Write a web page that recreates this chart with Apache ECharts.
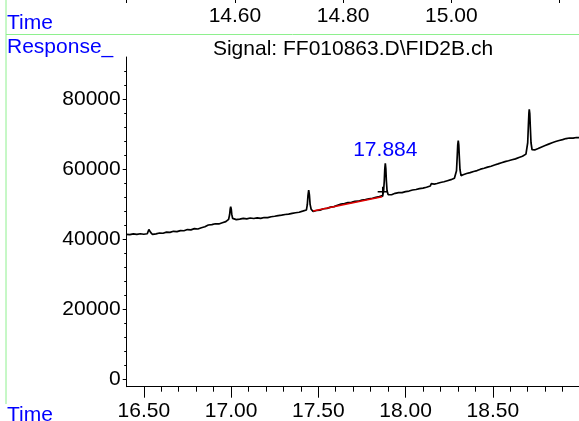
<!DOCTYPE html>
<html>
<head>
<meta charset="utf-8">
<script src="https://cdn.jsdelivr.net/npm/echarts@6/dist/echarts.min.js"></script>
<style>
    html, body { margin: 0; padding: 0; background: #fff; }
    #chart { width: 579px; height: 421px; }
</style>
</head>
<body>
<div id="chart"></div>
<script>
// Trace [time (min), response]
const trace = [
    [16.40, 41300], [16.41, 41150], [16.42, 41250], [16.43, 41100], [16.44, 41450], [16.45, 41250],
    [16.46, 41300], [16.47, 41200], [16.48, 41500], [16.49, 41300], [16.50, 41350], [16.51, 41250],
    [16.52, 41500], [16.526, 41900], [16.529, 42700], [16.532, 43200], [16.535, 42700], [16.539, 41900], [16.545, 41500],
    [16.55, 41300], [16.56, 41650], [16.57, 41450], [16.58, 41550], [16.59, 41700], [16.60, 41800],
    [16.61, 41650], [16.62, 41750], [16.63, 41950], [16.64, 42000], [16.65, 41900], [16.66, 42050],
    [16.67, 42200], [16.68, 42250], [16.69, 42100], [16.70, 42200], [16.71, 42400], [16.72, 42450],
    [16.73, 42350], [16.74, 42500], [16.75, 42700], [16.76, 42700], [16.77, 42600], [16.78, 42750],
    [16.79, 42950], [16.80, 42950], [16.81, 42850], [16.82, 43100], [16.83, 43200], [16.84, 43300],
    [16.85, 43500], [16.86, 43700], [16.87, 44000], [16.88, 44200], [16.89, 44100], [16.90, 44250],
    [16.91, 44350], [16.92, 44450], [16.93, 44300], [16.94, 44500], [16.95, 44650], [16.96, 44800],
    [16.97, 44950], [16.978, 45100],
    [16.986, 45600], [16.992, 47000], [16.995, 48500], [16.998, 49250], [17.001, 48600], [17.004, 47100], [17.009, 45900], [17.014, 45600],
    [17.02, 45650], [17.03, 45550], [17.04, 45800], [17.05, 45700], [17.06, 45750], [17.07, 45900],
    [17.08, 45850], [17.09, 45750], [17.10, 45800], [17.11, 46000], [17.12, 45950], [17.13, 45850],
    [17.14, 45900], [17.15, 46050], [17.16, 46000], [17.17, 45900], [17.18, 46050], [17.19, 46150],
    [17.20, 46000], [17.21, 46100], [17.22, 46200], [17.23, 46350], [17.24, 46400], [17.25, 46500],
    [17.26, 46600], [17.27, 46700], [17.28, 46750], [17.29, 46800], [17.30, 46900], [17.31, 47000],
    [17.32, 47050], [17.33, 47100], [17.34, 47200], [17.35, 47300], [17.36, 47350], [17.37, 47500],
    [17.38, 47550], [17.39, 47650], [17.40, 47800], [17.41, 47950], [17.42, 48050],
    [17.432, 48300], [17.437, 49800], [17.441, 52500], [17.445, 54000], [17.449, 52600], [17.453, 49900], [17.459, 48500],
    [17.466, 48000], [17.47, 47900], [17.48, 48100], [17.49, 48150], [17.50, 48300], [17.51, 48250],
    [17.52, 48450], [17.53, 48650], [17.54, 48800], [17.55, 48750], [17.56, 48900], [17.57, 49100],
    [17.58, 49300], [17.59, 49250], [17.60, 49400], [17.61, 49650], [17.62, 49800], [17.63, 49950],
    [17.64, 50150], [17.65, 50100], [17.66, 50250], [17.67, 50400], [17.68, 50500], [17.69, 50450],
    [17.70, 50600], [17.71, 50750], [17.72, 50850], [17.73, 50800], [17.74, 51000], [17.75, 51150],
    [17.76, 51200], [17.77, 51250], [17.78, 51350], [17.79, 51500], [17.80, 51600], [17.81, 51650],
    [17.82, 51800], [17.83, 51900], [17.84, 52050], [17.85, 52100], [17.86, 52250],
    [17.868, 52400], [17.874, 53600], [17.878, 56500], [17.881, 60000], [17.884, 61650], [17.887, 60100],
    [17.890, 56700], [17.894, 53800], [17.900, 52700],
    [17.91, 52750], [17.92, 52650], [17.93, 52950], [17.94, 53050], [17.95, 53100], [17.96, 53250],
    [17.97, 53300], [17.98, 53250], [17.99, 53400], [18.00, 53550], [18.01, 53650], [18.02, 53700],
    [18.03, 53800], [18.04, 54000], [18.05, 54100], [18.06, 54150], [18.07, 54250], [18.08, 54400],
    [18.09, 54500], [18.10, 54550], [18.11, 54650], [18.12, 54800], [18.13, 54900],
    [18.142, 55150], [18.147, 55800], [18.150, 56100], [18.154, 55700], [18.158, 55500],
    [18.165, 55700], [18.17, 55750], [18.18, 55850], [18.19, 56000], [18.20, 56150], [18.21, 56250],
    [18.22, 56350], [18.23, 56500], [18.24, 56650], [18.25, 56800], [18.26, 56950], [18.27, 57200],
    [18.28, 57350], [18.287, 57600], [18.292, 59500], [18.296, 63500], [18.299, 66800], [18.302, 68100],
    [18.305, 66900], [18.308, 63600], [18.312, 59800], [18.318, 58100],
    [18.33, 58350], [18.34, 58450], [18.35, 58700], [18.36, 58800], [18.37, 58950], [18.38, 59150],
    [18.39, 59300], [18.40, 59400], [18.41, 59550], [18.42, 59800], [18.43, 59950], [18.44, 60050],
    [18.45, 60200], [18.46, 60400], [18.47, 60550], [18.48, 60650], [18.49, 60800], [18.50, 61000],
    [18.51, 61150], [18.52, 61300], [18.53, 61450], [18.54, 61600], [18.55, 61800], [18.56, 61900],
    [18.57, 62100], [18.58, 62250], [18.59, 62350], [18.60, 62500], [18.61, 62650], [18.62, 62800],
    [18.63, 62900], [18.64, 63100], [18.65, 63300], [18.66, 63450], [18.67, 63650], [18.68, 63900],
    [18.69, 64250], [18.695, 64800], [18.700, 67500], [18.704, 72500], [18.707, 76000], [18.709, 77050],
    [18.712, 75800], [18.715, 72000], [18.719, 67500], [18.725, 65500],
    [18.73, 65300], [18.74, 65450], [18.75, 65650], [18.76, 65850], [18.77, 66050], [18.78, 66300],
    [18.79, 66500], [18.80, 66700], [18.81, 66900], [18.82, 67100], [18.83, 67350], [18.84, 67500],
    [18.85, 67700], [18.86, 67850], [18.87, 68000], [18.88, 68150], [18.89, 68300], [18.90, 68400],
    [18.91, 68550], [18.92, 68700], [18.93, 68800], [18.94, 68850], [18.95, 68900], [18.96, 68800],
    [18.97, 68950], [18.98, 69000], [18.994, 68950]
];

// Integrated peak: apex, its label, baseline and marker
const peakApex = [[17.884, 61650]];
const peakLabels = ['17.884'];
const integrationBaseline = [[17.47, 48000], [17.866, 52080]];
const apexMarker = [[17.869, 53500]];

// Axis ticks
const xMajorTicks = [16.5, 17.0, 17.5, 18.0, 18.5];
const xMinorTicks = [16.6, 16.7, 16.8, 16.9, 17.1, 17.2, 17.3, 17.4, 17.6, 17.7, 17.8, 17.9,
    18.1, 18.2, 18.3, 18.4, 18.6, 18.7, 18.8, 18.9];
const yMajorTicks = [0, 20000, 40000, 60000, 80000];
const yMinorTicks = [0, 4000, 8000, 12000, 16000, 20000, 24000, 28000, 32000, 36000, 40000, 44000,
    48000, 52000, 56000, 60000, 64000, 68000, 72000, 76000, 80000, 84000, 88000];
const topTicks = [14.4, 14.6, 14.8, 15.0, 15.2];
const topLabels = [14.6, 14.8, 15.0];

const FONT = 'Liberation Sans, Arial, sans-serif';
const BLUE = '#0000ff';
const GREEN = '#8ef08e';

document.addEventListener('DOMContentLoaded', () => {
    const chart = echarts.init(document.getElementById('chart'), null, { renderer: 'canvas' });

    const tickLabel = { color: '#000', fontFamily: FONT, fontSize: 21 };

    const option = {
        animation: false,
        backgroundColor: '#fff',
        grid: [
            { left: 126.7, right: 0, top: 57, bottom: 34.3, outerBoundsMode: 'none' },
            { left: 126.7, right: 0, top: -60, height: 57, outerBoundsMode: 'none' }
        ],
        xAxis: [
            {
                type: 'value', gridIndex: 0, position: 'bottom', min: 16.402, max: 18.994,
                axisLine: { onZero: false, lineStyle: { color: '#000', width: 1 } },
                axisTick: { customValues: xMajorTicks, length: 11, lineStyle: { color: '#000' } },
                axisLabel: { ...tickLabel, customValues: xMajorTicks, margin: 14, formatter: (v) => v.toFixed(2) },
                splitLine: { show: false }
            },
            {
                type: 'value', gridIndex: 0, position: 'bottom', min: 16.402, max: 18.994,
                axisLine: { show: false, onZero: false },
                axisTick: { customValues: xMinorTicks, length: 5, lineStyle: { color: '#000' } },
                axisLabel: { show: false },
                splitLine: { show: false }
            },
            {
                type: 'value', gridIndex: 1, min: 14.4, max: 15.236, position: 'bottom',
                axisLine: { show: false, onZero: false },
                axisTick: { customValues: topTicks, length: 6, lineStyle: { color: '#000' } },
                axisLabel: { ...tickLabel, customValues: topLabels, margin: 9, formatter: (v) => v.toFixed(2) },
                splitLine: { show: false }
            }
        ],
        yAxis: [
            {
                type: 'value', gridIndex: 0, position: 'left', min: -2200, max: 92000,
                axisLine: { show: true, onZero: false, lineStyle: { color: '#000', width: 1 } },
                axisTick: { customValues: yMajorTicks, length: 4, lineStyle: { color: '#000' } },
                axisLabel: { ...tickLabel, customValues: yMajorTicks, margin: 6, formatter: (v) => String(v) },
                splitLine: { show: false }
            },
            {
                type: 'value', gridIndex: 0, position: 'left', min: -2200, max: 92000,
                axisLine: { show: false, onZero: false },
                axisTick: { customValues: yMinorTicks, length: 2.5, lineStyle: { color: '#000' } },
                axisLabel: { show: false },
                splitLine: { show: false }
            },
            { type: 'value', gridIndex: 1, show: false, min: 0, max: 1 }
        ],
        graphic: [
            { type: 'line', shape: { x1: 6, y1: 0, x2: 6, y2: 404 }, style: { stroke: GREEN, lineWidth: 1 } },
            { type: 'line', shape: { x1: 6, y1: 34.5, x2: 579, y2: 34.5 }, style: { stroke: GREEN, lineWidth: 1 } },
            { type: 'text', x: 7, y: 23, style: { text: 'Time', fill: BLUE, font: `21px ${FONT}`, verticalAlign: 'middle' } },
            { type: 'text', x: 7, y: 47, style: { text: 'Response_', fill: BLUE, font: `21px ${FONT}`, verticalAlign: 'middle' } },
            { type: 'text', x: 7, y: 415, style: { text: 'Time', fill: BLUE, font: `21px ${FONT}`, verticalAlign: 'middle' } },
            { type: 'text', x: 353, y: 49, style: { text: 'Signal: FF010863.D\\FID2B.ch', fill: '#000', font: `21px ${FONT}`, align: 'center', verticalAlign: 'middle' } }
        ],
        series: [
            {
                name: 'FID2B', type: 'line', xAxisIndex: 0, yAxisIndex: 0,
                data: trace, showSymbol: false, symbol: 'none',
                lineStyle: { color: '#000', width: 1.7 }
            },
            {
                name: 'baseline', type: 'line', xAxisIndex: 0, yAxisIndex: 0,
                data: integrationBaseline, symbol: 'none',
                lineStyle: { color: '#e00000', width: 1.5 }, z: 3
            },
            {
                name: 'marker', type: 'scatter', xAxisIndex: 0, yAxisIndex: 0,
                data: apexMarker,
                symbol: 'path://M4.3,0h1.4v4.3h4.3v1.4h-4.3v4.3h-1.4v-4.3h-4.3v-1.4h4.3z',
                symbolSize: 10, itemStyle: { color: '#000', opacity: 1 }, z: 4
            },
            {
                name: 'apex', type: 'scatter', xAxisIndex: 0, yAxisIndex: 0,
                data: peakApex, symbolSize: 1, itemStyle: { color: 'transparent', opacity: 1 },
                label: {
                    show: true, position: 'top', distance: 2,
                    color: BLUE, fontFamily: FONT, fontSize: 21,
                    formatter: (p) => peakLabels[p.dataIndex]
                }
            }
        ]
    };

    chart.setOption(option);
});
</script>
</body>
</html>
